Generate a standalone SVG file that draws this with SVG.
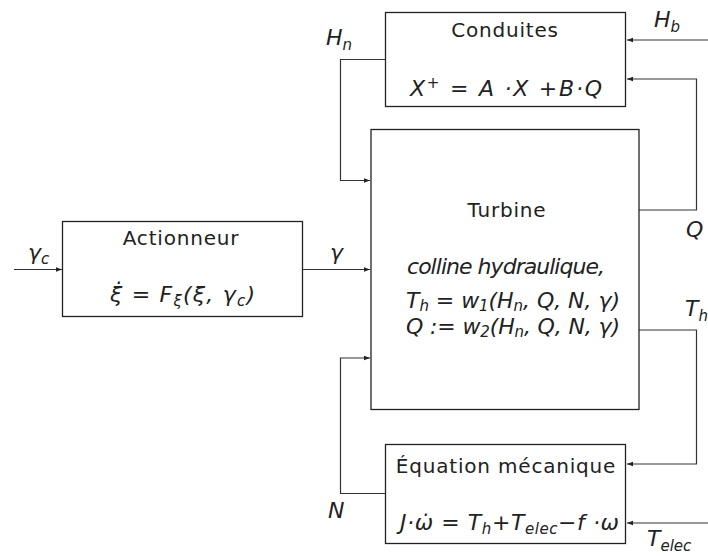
<svg xmlns="http://www.w3.org/2000/svg" width="708" height="556" viewBox="0 0 708 556">
<style>
.box{fill:#fff;stroke:#222;stroke-width:1.3}
.ln{fill:none;stroke:#333;stroke-width:1.2}
.t{font-family:"DejaVu Sans",sans-serif;font-size:20px;fill:#222;letter-spacing:0.8px}
.m{font-family:"DejaVu Sans",sans-serif;font-size:22px;font-style:italic;fill:#222}
.s{font-size:15px}
</style>
<defs>
<marker id="ar" markerWidth="7" markerHeight="6" refX="6" refY="3" orient="auto" markerUnits="userSpaceOnUse">
<path d="M0,0.8 L6,3 L0,5.2 Z" fill="#222"/>
</marker>
</defs>
<rect width="708" height="556" fill="#fff"/>
<g id="connectors">
<path class="ln" d="M14,269.5 H62" marker-end="url(#ar)"/>
<path class="ln" d="M303,269.5 H370" marker-end="url(#ar)"/>
<path class="ln" d="M385,59.5 H340.5 V180.5 H370" marker-end="url(#ar)"/>
<path class="ln" d="M708,40 H627" marker-end="url(#ar)"/>
<path class="ln" d="M639,210 H696.5 V79 H627" marker-end="url(#ar)"/>
<path class="ln" d="M639,330 H696.5 V464 H627" marker-end="url(#ar)"/>
<path class="ln" d="M708,523 H627" marker-end="url(#ar)"/>
<path class="ln" d="M385,493.5 H340.5 V358 H370" marker-end="url(#ar)"/>
</g>
<g id="conduites">
<rect class="box" x="385.5" y="12.5" width="240" height="94"/>
<text class="t" x="505" y="37" text-anchor="middle">Conduites</text>
<text class="m" x="410" y="96" textLength="192" lengthAdjust="spacing">X<tspan class="s" dy="-8">+</tspan><tspan dy="8"> = A ·X +B·Q</tspan></text>
</g>
<g id="actionneur">
<rect class="box" x="62.5" y="221.5" width="240" height="95"/>
<text class="t" x="181" y="245" text-anchor="middle">Actionneur</text>
<text class="m" x="110" y="302" textLength="145" lengthAdjust="spacing">ξ̇ = F<tspan class="s" dy="4">ξ</tspan><tspan dy="-4">(ξ, γ</tspan><tspan class="s" dy="4">c</tspan><tspan dy="-4">)</tspan></text>
</g>
<g id="turbine">
<rect class="box" x="371" y="129.5" width="268" height="280"/>
<text class="t" x="507" y="217" text-anchor="middle">Turbine</text>
<text class="m" x="407" y="274" textLength="198" lengthAdjust="spacing">colline hydraulique,</text>
<text class="m" x="406" y="308" textLength="214" lengthAdjust="spacing">T<tspan class="s" dy="3">h</tspan><tspan dy="-3"> = w</tspan><tspan class="s" dy="3">1</tspan><tspan dy="-3">(H</tspan><tspan class="s" dy="3">n</tspan><tspan dy="-3">, Q, N, γ)</tspan></text>
<text class="m" x="406" y="334" textLength="214" lengthAdjust="spacing">Q := w<tspan class="s" dy="3">2</tspan><tspan dy="-3">(H</tspan><tspan class="s" dy="3">n</tspan><tspan dy="-3">, Q, N, γ)</tspan></text>
</g>
<g id="equation">
<rect class="box" x="385.5" y="444.5" width="240" height="99"/>
<text class="t" x="506" y="473" text-anchor="middle">Équation mécanique</text>
<text class="m" x="400" y="530" textLength="219" lengthAdjust="spacing">J·ω̇ = T<tspan class="s" dy="4">h</tspan><tspan dy="-4">+T</tspan><tspan class="s" dy="4">elec</tspan><tspan dy="-4">−f ·ω</tspan></text>
</g>
<g id="labels">
<text class="m" x="326" y="45">H<tspan class="s" dy="5">n</tspan></text>
<text class="m" x="654" y="27">H<tspan class="s" dy="5">b</tspan></text>
<text class="m" x="28" y="260">γ<tspan class="s" dy="4">c</tspan></text>
<text class="m" x="330" y="260">γ</text>
<text class="m" x="686" y="237">Q</text>
<text class="m" x="685" y="316">T<tspan class="s" dy="5">h</tspan></text>
<text class="m" x="328" y="518">N</text>
<text class="m" x="647" y="546">T<tspan class="s" dy="5">elec</tspan></text>
</g>
</svg>
